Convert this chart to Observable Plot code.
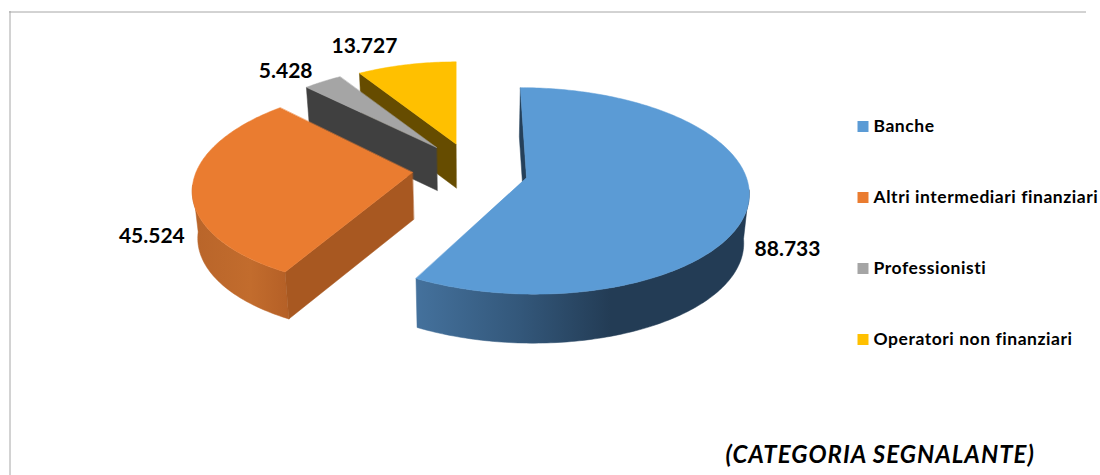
<!DOCTYPE html>
<html>
<head>
<meta charset="utf-8">
<script src="https://cdn.jsdelivr.net/npm/d3@7"></script>
<script src="https://cdn.jsdelivr.net/npm/@observablehq/plot@0.6"></script>
<style>
  html, body { margin: 0; padding: 0; background: #fff; }
  svg { display: block; }
  .legend-label text, .legend-label { letter-spacing: 0.55px; }
  .caption-label text, .caption-label { letter-spacing: 1px; }
</style>
</head>
<body>
<div id="chart"></div>
<script>
// Reports by reporting category
const categories = ["Banche", "Altri intermediari finanziari", "Professionisti", "Operatori non finanziari"];
const values = [88733, 45524, 5428, 13727];
const topColors = ["#5b9bd5", "#ea7c30", "#a5a5a5", "#ffc000"];
const caption = "(CATEGORIA SEGNALANTE)";

// Exploded 3D layout of each slice, in the same order as the categories
const apexX = [526, 412, 436, 455.5];
const apexY = [177, 172, 147, 143.5];
const sliceScale = [0.995, 0.98, 0.91, 0.91];
const sliceSkew = [-7, 12, 0, 0];
const sliceDepth = [49, 47, 43, 44];
const labelDx = [39, -40.5, -37, -42];
const labelDy = [46, 49, -10, -18.5];

const rx = 221, ry = 102, tilt = 0.13;
const vanishX = 470, shrink = 0.02;
const deg = Math.PI / 180;

const fmt = d3.formatLocale({decimal: ",", thousands: ".", grouping: [3], currency: ["", ""]}).format(",");
const arcs = d3.pie().sort(null).startAngle(0).endAngle(2 * Math.PI)(values);

// Perspective projection of a point on the pie disc
function project(i, theta, r = 1) {
  const u = r * Math.sin(theta), v = r * Math.cos(theta), w = 1 + tilt * v;
  const s = sliceScale[i];
  return {
    x: apexX[i] + s * (rx * u + sliceSkew[i] * v) / w,
    y: apexY[i] - s * ry * v / w
  };
}
// The same point at the bottom of the extruded slice
function drop(i, p) {
  return {x: p.x + (vanishX - p.x) * shrink, y: p.y + sliceDepth[i]};
}
function rim(i, a0, a1) {
  const n = Math.max(2, Math.ceil(Math.abs(a1 - a0) * 60));
  return d3.range(n + 1).map((k) => project(i, a0 + (a1 - a0) * k / n));
}
const apex = (i) => ({x: apexX[i], y: apexY[i]});
const topFace = (i) => [apex(i), ...rim(i, arcs[i].startAngle, arcs[i].endAngle)];
const wall = (i, a0, a1) => {
  const t = rim(i, a0, a1);
  return [...t, ...t.slice().reverse().map((p) => drop(i, p))];
};
const edgeFace = (i, a) => {
  const o = project(i, a), c = apex(i);
  return [c, o, drop(i, o), drop(i, c)];
};

const face = (pts, color) => Plot.line(pts, {
  x: "x", y: "y", curve: "linear-closed", fill: color, stroke: color, strokeWidth: 0.5
});

// Horizontal gradients used on the curved outer walls
const wallGradients = () => {
  const defs = d3.create("svg:defs");
  const add = (id, stops) => {
    const g = defs.append("linearGradient").attr("id", id)
      .attr("gradientUnits", "userSpaceOnUse")
      .attr("x1", 0).attr("x2", 1100).attr("y1", 0).attr("y2", 0);
    stops.forEach(([o, c]) => g.append("stop").attr("offset", o / 1100).attr("stop-color", c));
  };
  add("wall-blue", [[417, "#44719c"], [520, "#33577a"], [610, "#233c55"], [749, "#233c55"]]);
  add("wall-orange", [[195, "#b9652a"], [250, "#c26c2d"], [290, "#b45f26"]]);
  return defs.node();
};

const labelPoints = arcs.map((a, i) => {
  const p = project(i, (a.startAngle + a.endAngle) / 2);
  return {x: p.x + labelDx[i], y: p.y + labelDy[i], text: fmt(values[i])};
});
const legendRows = categories.map((name, i) => ({name, i}));
const legendY = (d) => 126 + d.i * 71;

const font = "Lato, 'Open Sans', sans-serif";

const chart = Plot.plot({
  width: 1100,
  height: 475,
  margin: 0,
  style: {background: "#fff", color: "#000", fontFamily: font},
  x: {domain: [0, 1100], range: [0, 1100], axis: null},
  y: {domain: [0, 475], range: [0, 475], axis: null},
  color: {domain: categories, range: topColors},
  marks: [
    wallGradients,
    // Frame around the chart area
    Plot.ruleY([11.5], {x1: 9, x2: 1086, stroke: "#a6a6a6", strokeWidth: 1}),
    Plot.ruleX([9.5], {y1: 11, y2: 475, stroke: "#a6a6a6", strokeWidth: 1}),

    // Slices, painted from back to front
    face(edgeFace(3, arcs[3].startAngle), "#664c00"),
    face(topFace(3), topColors[3]),
    face(edgeFace(2, arcs[2].startAngle), "#404040"),
    face(topFace(2), topColors[2]),
    face(wall(1, arcs[1].startAngle, 263 * deg), "url(#wall-orange)"),
    face(edgeFace(1, arcs[1].startAngle), "#a85821"),
    face(topFace(1), topColors[1]),
    face(edgeFace(0, arcs[0].startAngle), "#25405a"),
    face(wall(0, 97 * deg, arcs[0].endAngle), "url(#wall-blue)"),
    face(topFace(0), topColors[0]),

    // Value labels
    Plot.text(labelPoints, {x: "x", y: "y", text: "text", fontSize: 21, fontWeight: 700, fill: "#000"}),

    // Legend
    Plot.dot(legendRows, {x: () => 862.5, y: legendY, symbol: "square", r: 6.2, fill: "name"}),
    Plot.text(legendRows, {x: () => 873, y: legendY, text: "name", textAnchor: "start", fontSize: 17.5, fontWeight: 700, fill: "#000", className: "legend-label"}),

    // Axis caption
    Plot.text([caption], {x: () => 725, y: () => 455, text: (d) => d, textAnchor: "start", fontSize: 24, fontWeight: 700, fontStyle: "italic", fill: "#000", className: "caption-label"})
  ]
});
document.getElementById("chart").append(chart);
</script>
</body>
</html>
